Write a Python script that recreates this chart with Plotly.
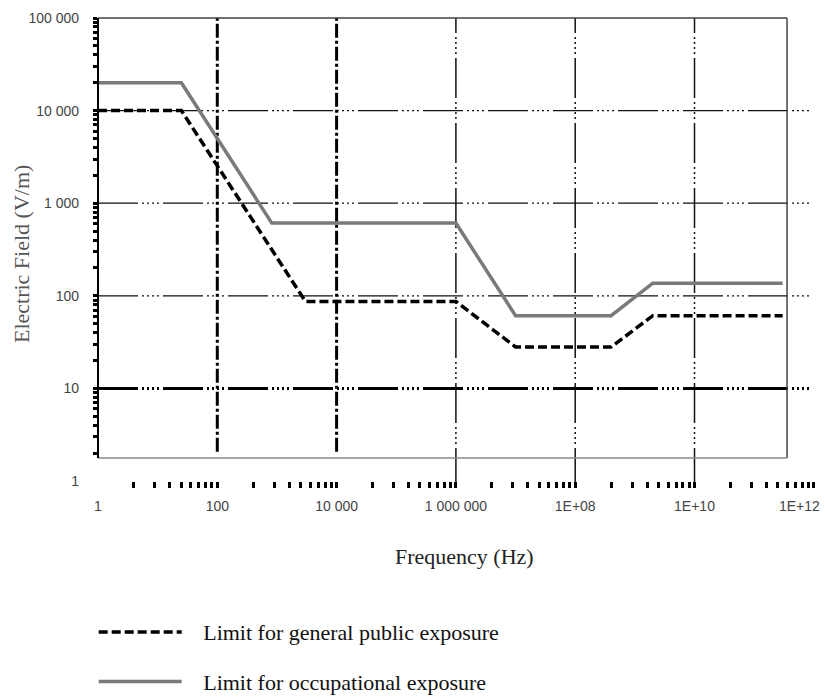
import plotly.graph_objects as go

# Reference levels for the electric field (V/m) versus frequency (Hz)
public_freq = [1, 25, 3000, 1e6, 1e7, 4e8, 2e9, 3e11]
public_field = [10000, 10000, 87, 87, 28, 28, 61, 61]

occup_freq = [1, 25, 820, 1e6, 1e7, 4e8, 2e9, 3e11]
occup_field = [20000, 20000, 610, 610, 61, 61, 137, 137]

# Axis ticks (the last frequency label is placed separately so it fits inside the page)
x_tickvals = [1, 1e2, 1e4, 1e6, 1e8, 1e10]
x_ticktext = ["1", "100", "10 000", "1 000 000", "1E+08", "1E+10"]
x_last_val, x_last_text = 1e12, "1E+12"
y_tickvals = [1, 10, 100, 1000, 10000, 100000]
y_ticktext = ["1", "10", "100", "1 000", "10 000", "100 000"]

# Tick marks: the frequency axis steps by factors of 100, so its minor marks sit at k^2
x_marks = [k * k * 100 ** n for n in range(6) for k in range(2, 11)]
y_marks = [k * 10 ** n for n in range(5) for k in range(1, 10) if not (k == 1 and n == 0)] + [100000]

# Grid lines
v_grid_heavy = [1e2, 1e4]
v_grid_light = [1e6, 1e8, 1e10]
h_grid_light = [100, 1000, 10000]
h_grid_heavy = [10]

GRID_DASH = "40px,4px,2px,3px,2px,3px,2px,3px,2px,4px"
HEAVY_DASH = "14px,3px,3px,3px"

fig = go.Figure()

fig.add_trace(go.Scatter(
    x=public_freq, y=public_field, mode="lines",
    name="&nbsp;&nbsp;&nbsp;Limit for general public exposure", legendgroup="public",
    line=dict(color="black", width=3.5, dash="9px,4px"),
))
fig.add_trace(go.Scatter(
    x=occup_freq, y=occup_field, mode="lines",
    name="&nbsp;&nbsp;&nbsp;Limit for occupational exposure", legendgroup="occup",
    line=dict(color="#7a7a7a", width=3.5),
))

# Plot frame edges (paper coordinates)
FRAME_R = 0.961
FRAME_B = 0.0497
shapes = []
for v in v_grid_heavy:
    shapes.append(dict(type="line", xref="x", yref="paper", x0=v, x1=v, y0=0.063, y1=1,
                       line=dict(color="black", width=3, dash=HEAVY_DASH), layer="below"))
for v in v_grid_light:
    shapes.append(dict(type="line", xref="x", yref="paper", x0=v, x1=v, y0=-0.015, y1=1,
                       line=dict(color="#111", width=1.5, dash=GRID_DASH), layer="below"))
for v in h_grid_light:
    shapes.append(dict(type="line", xref="paper", yref="y", x0=0, x1=0.994, y0=v, y1=v,
                       line=dict(color="#111", width=1.3, dash=GRID_DASH), layer="below"))
for v in h_grid_heavy:
    shapes.append(dict(type="line", xref="paper", yref="y", x0=0, x1=0.994, y0=v, y1=v,
                       line=dict(color="black", width=3, dash=GRID_DASH), layer="below"))

shapes += [
    dict(type="line", xref="paper", yref="paper", x0=0, x1=FRAME_R, y0=1, y1=1,
         line=dict(color="#444", width=1.5)),
    dict(type="line", xref="paper", yref="paper", x0=FRAME_R, x1=FRAME_R, y0=FRAME_B, y1=1,
         line=dict(color="#444", width=1.5)),
    dict(type="line", xref="paper", yref="paper", x0=0, x1=FRAME_R, y0=FRAME_B, y1=FRAME_B,
         line=dict(color="#888", width=1.5)),
    dict(type="line", xref="paper", yref="paper", x0=0, x1=0, y0=FRAME_B, y1=1,
         line=dict(color="black", width=2)),
]

annotations = [
    dict(text="Electric Field (V/m)", xref="paper", yref="paper", x=-0.1075, y=0.49,
         textangle=-90, showarrow=False, xanchor="center", yanchor="middle",
         font=dict(family="Liberation Serif", size=22, color="#555")),
    dict(text="Frequency (Hz)", xref="paper", yref="paper", x=0.511, y=-0.164,
         showarrow=False, xanchor="center", yanchor="middle",
         font=dict(family="Liberation Serif", size=22, color="#222")),
    dict(text=x_last_text, xref="x", yref="paper", x=12, y=-0.054,
         xanchor="right", yanchor="middle", xshift=8, showarrow=False,
         font=dict(family="Liberation Sans", size=14, color="#444")),
]

fig.update_layout(
    width=825, height=698,
    margin=dict(l=98, r=10, t=18, b=217, autoexpand=False),
    paper_bgcolor="white", plot_bgcolor="white",
    shapes=shapes, annotations=annotations,
    showlegend=True,
    legend=dict(
        x=-0.006, y=-0.281, xanchor="left", yanchor="top",
        orientation="v", itemwidth=83, tracegroupgap=18,
        font=dict(family="Liberation Serif", size=22, color="#111"),
        bgcolor="rgba(0,0,0,0)",
    ),
    xaxis=dict(
        type="log", range=[0, 12.02], showgrid=False, zeroline=False, showline=False,
        tickmode="array", tickvals=x_tickvals, ticktext=x_ticktext,
        ticks="", ticklabelstandoff=15,
        tickfont=dict(family="Liberation Sans", size=14, color="#444"),
        minor=dict(tickmode="array", tickvals=x_marks, ticks="outside",
                   ticklen=6, tickwidth=3, tickcolor="black", showgrid=False),
    ),
    yaxis=dict(
        type="log", range=[0, 5], showgrid=False, zeroline=False, showline=False,
        tickmode="array", tickvals=y_tickvals, ticktext=y_ticktext,
        ticks="", ticklabelstandoff=18,
        tickfont=dict(family="Liberation Sans", size=14, color="#444"),
        minor=dict(tickmode="array", tickvals=y_marks, ticks="outside",
                   ticklen=4, tickwidth=2.5, tickcolor="black", showgrid=False),
    ),
)

fig.write_html("out.html")
